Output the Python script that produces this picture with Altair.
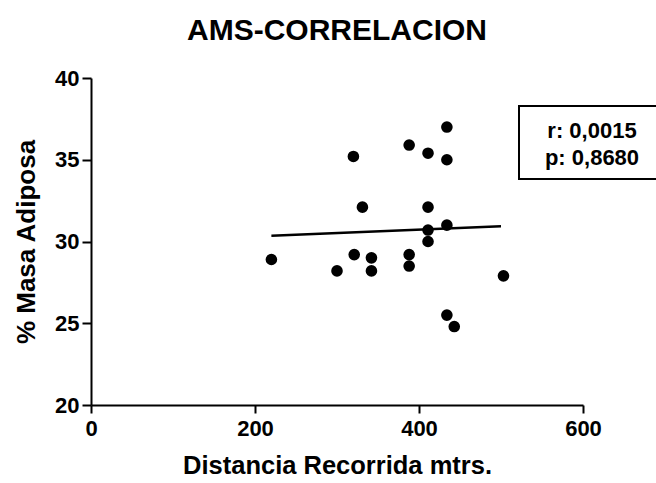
import altair as alt
import pandas as pd

# Data
distancia = [220, 300, 321, 342, 342, 320, 331, 388, 388, 388,
             411, 411, 411, 411, 434, 434, 434, 434, 443, 503]
masa = [28.9, 28.2, 29.2, 29.0, 28.2, 35.2, 32.1, 35.9, 29.2, 28.5,
        35.4, 32.1, 30.7, 30.0, 37.0, 35.0, 31.0, 25.5, 24.8, 27.9]

fit_x = [220, 500]
fit_y = [30.35, 30.93]

x_ticks = [0, 200, 400, 600]
y_ticks = [20, 25, 30, 35, 40]

stat_r = "r: 0,0015"
stat_p = "p: 0,8680"

FONT = "Liberation Sans"

pts = pd.DataFrame({"x": distancia, "y": masa})
fit = pd.DataFrame({"x": fit_x, "y": fit_y})
ann = pd.DataFrame({"r": [stat_r], "p": [stat_p]})

xs = alt.Scale(domain=[0, 600], nice=False, zero=False)
ys = alt.Scale(domain=[20, 40], nice=False, zero=False)

common = dict(grid=False, domainColor="black", domainWidth=2, tickColor="black",
              tickWidth=2, labelFont=FONT, labelFontSize=22, labelFontWeight="bold",
              labelColor="black", titleFont=FONT, titleFontWeight="bold",
              titleColor="black", labelFlush=False)
xax = alt.Axis(values=x_ticks, title="Distancia Recorrida mtrs.", tickSize=8,
               labelPadding=5, titlePadding=14, titleFontSize=25.5, **common)
yax = alt.Axis(values=y_ticks, title="% Masa Adiposa", tickSize=9,
               labelPadding=3, titlePadding=15, titleFontSize=26, **common)

points = alt.Chart(pts).mark_circle(size=135, color="black", opacity=1).encode(
    x=alt.X("x:Q", scale=xs, axis=xax),
    y=alt.Y("y:Q", scale=ys, axis=yax),
)

line = alt.Chart(fit).mark_line(color="black", strokeWidth=2.5).encode(
    x=alt.X("x:Q", scale=xs),
    y=alt.Y("y:Q", scale=ys),
)

box = alt.Chart(ann).mark_rect(fill="white", stroke="black", strokeWidth=2).encode(
    x=alt.value(428), x2=alt.value(570), y=alt.value(28), y2=alt.value(101)
)

txt_style = dict(font=FONT, fontSize=22, fontWeight="bold", color="black",
                 align="center", baseline="alphabetic")
text_r = alt.Chart(ann).mark_text(**txt_style).encode(
    x=alt.value(501), y=alt.value(60), text="r:N")
text_p = alt.Chart(ann).mark_text(**txt_style).encode(
    x=alt.value(501), y=alt.value(87), text="p:N")

chart = alt.layer(line, points, box, text_r, text_p).properties(
    width=492, height=327,
    title=alt.TitleParams("AMS-CORRELACION", font=FONT, fontSize=30,
                          fontWeight="bold", color="black", anchor="middle",
                          frame="group", baseline="alphabetic", offset=-3),
    autosize=alt.AutoSizeParams(type="none"),
    padding={"left": 91, "top": 78, "right": 73, "bottom": 78},
).configure_view(stroke=None)

chart.save("out.html", embed_options={"renderer": "svg", "actions": False})
